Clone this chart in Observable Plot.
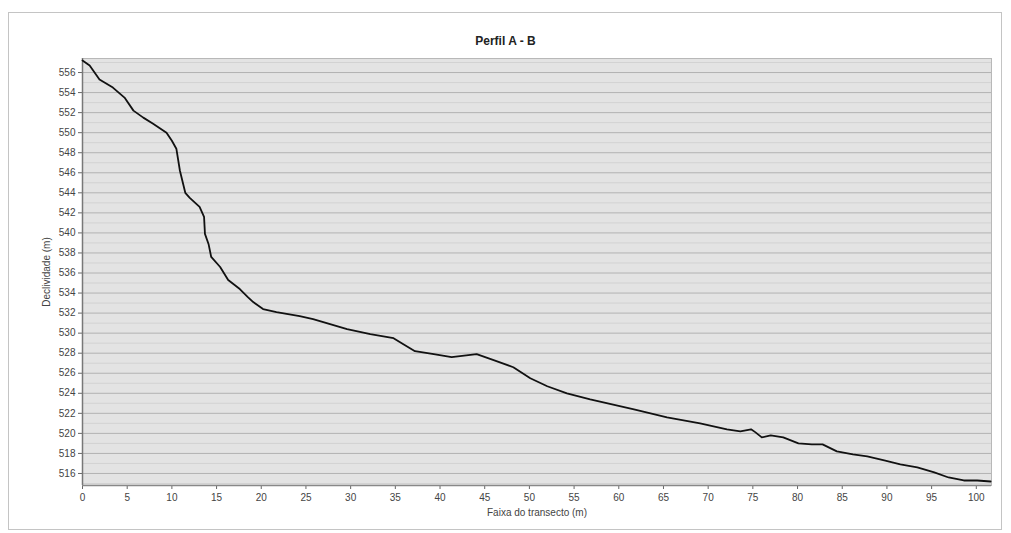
<!DOCTYPE html>
<html>
<head>
<meta charset="utf-8">
<script src="https://cdn.jsdelivr.net/npm/d3@7"></script>
<script src="https://cdn.jsdelivr.net/npm/@observablehq/plot@0.6"></script>
<style>
  html, body { margin: 0; padding: 0; background: #fff; }
  #wrap { position: relative; width: 1011px; height: 533px; font-family: "Liberation Sans", Arial, sans-serif; }
  #frame { position: absolute; left: 8px; top: 12px; width: 994px; height: 518px; border: 1px solid #c4c4c4; box-sizing: border-box; }
  #title { position: absolute; left: 0; width: 1011px; top: 34px; text-align: center; font-size: 12px; font-weight: bold; color: #222; }
  #chart { position: absolute; left: 0; top: 0; }
</style>
</head>
<body>
<div id="wrap">
  <div id="frame"></div>
  <div id="title">Perfil A - B</div>
  <div id="chart"></div>
</div>
<script>
const distance = [0, 0.8, 1.9, 3.4, 4.7, 5.7, 6.8, 7.9, 9.4, 10.0, 10.5, 10.9, 11.5, 12.0, 13.1, 13.6, 13.7, 14.1, 14.4, 15.4, 16.3, 17.6, 18.5, 19.1, 20.2, 21.7, 24.3, 25.8, 29.6, 32.2, 34.8, 35.9, 37.2, 39.3, 41.3, 44.1, 46.0, 48.2, 50.1, 52.0, 54.2, 56.8, 61.7, 65.4, 69.1, 72.1, 73.6, 74.8, 75.3, 76.0, 77.0, 78.4, 80.1, 81.6, 82.8, 84.4, 86.2, 87.8, 89.7, 91.5, 93.4, 95.3, 96.9, 98.6, 100.1, 101.6];
const elevation = [557.2, 556.7, 555.3, 554.5, 553.5, 552.2, 551.5, 550.9, 550.0, 549.2, 548.4, 546.2, 544.0, 543.5, 542.6, 541.6, 539.9, 538.9, 537.6, 536.6, 535.3, 534.4, 533.6, 533.1, 532.4, 532.1, 531.7, 531.4, 530.4, 529.9, 529.5, 528.9, 528.2, 527.9, 527.6, 527.9, 527.3, 526.6, 525.5, 524.7, 524.0, 523.4, 522.4, 521.6, 521.0, 520.4, 520.2, 520.4, 520.1, 519.6, 519.8, 519.6, 519.0, 518.9, 518.9, 518.2, 517.9, 517.7, 517.3, 516.9, 516.6, 516.1, 515.6, 515.3, 515.3, 515.2];
const yTicks = d3.range(516, 557, 2);
const yMinor = d3.range(515, 558, 1).filter(v => v % 2 !== 0);
const xTicks = d3.range(0, 101, 5);

const profile = distance.map((d, i) => ({distance: d, elevation: elevation[i]}));

const yMin = 514.8, yMax = 557.4;

const chart = Plot.plot({
  width: 1011,
  height: 533,
  marginLeft: 82,
  marginRight: 20,
  marginTop: 58,
  marginBottom: 48,
  style: {fontFamily: "'Liberation Sans', Arial, sans-serif", fontSize: "10px", color: "#444", background: "transparent"},
  x: {domain: [0, 101.7], ticks: xTicks, label: "Faixa do transecto (m)", labelAnchor: "center", labelArrow: "none"},
  y: {domain: [yMin, yMax], ticks: yTicks, label: "Declividade (m)", labelAnchor: "center", labelArrow: "none"},
  marks: [
    Plot.frame({fill: "#e3e3e3", stroke: "#b8b8b8"}),
    Plot.ruleY(yMinor, {stroke: "#d2d2d2", strokeWidth: 1}),
    Plot.ruleY(yTicks, {stroke: "#b2b2b2", strokeWidth: 1}),
    Plot.axisY({ticks: yTicks, tickSize: 4, tickPadding: 3, label: "Declividade (m)", labelAnchor: "center", labelArrow: "none", labelOffset: 40, stroke: "#666"}),
    Plot.axisX({ticks: xTicks, tickSize: 4, tickPadding: 4, label: "Faixa do transecto (m)", labelAnchor: "center", labelArrow: "none", labelOffset: 30, stroke: "#666"}),
    Plot.ruleX([0], {stroke: "#777", strokeWidth: 1.5}),
    Plot.ruleY([yMin], {stroke: "#888", strokeWidth: 1.5}),
    Plot.line(profile, {x: "distance", y: "elevation", stroke: "#111", strokeWidth: 1.8, curve: "linear"})
  ]
});
document.getElementById("chart").appendChild(chart);
</script>
</body>
</html>
